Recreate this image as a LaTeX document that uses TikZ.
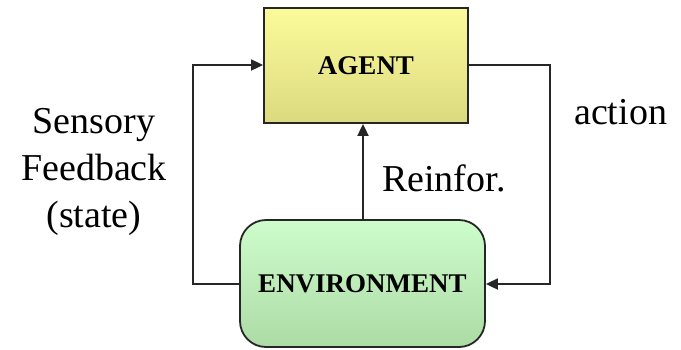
\documentclass[tikz,border=0pt]{standalone}
\usepackage{fontspec}
\setmainfont{Liberation Serif}
\usetikzlibrary{arrows.meta}
\definecolor{agtop}{HTML}{FCFB9A}
\definecolor{agbot}{HTML}{DCDA80}
\definecolor{envtop}{HTML}{CDFDCB}
\definecolor{envbot}{HTML}{ADDBA6}
\begin{document}
\begin{tikzpicture}[x=1pt,y=-1pt,
  box/.style={draw=black!85, line width=1.8pt, inner sep=0pt, font=\fontsize{27}{30}\selectfont\bfseries},
  lbl/.style={font=\fontsize{38}{47}\selectfont, inner sep=0pt, align=center},
  conn/.style={draw=black!85, line width=1.8pt, -{Triangle[length=12pt,width=11pt]}}]
\useasboundingbox (0,0) rectangle (681,349);
\node[box, minimum width=204pt, minimum height=115pt, top color=agtop, bottom color=agbot] (agent) at (366,65.5) {AGENT};
\node[box, rounded corners=26pt, minimum width=245pt, minimum height=127pt, top color=envtop, bottom color=envbot] (env) at (362.5,283.5) {ENVIRONMENT};
\coordinate (lt) at (193,65);
\coordinate (lb) at (193,284);
\coordinate (rt) at (550,65);
\coordinate (rb) at (550,284);
\draw[conn] (env.west |- lb) -- (lb) -- (lt) -- (agent.west |- lt);
\draw[conn] (agent.east |- rt) -- (rt) -- (rb) -- (env.east |- rb);
\draw[conn] (env.north -| 363,0) -- (agent.south -| 363,0);
\node[lbl] (sf) at (94,172) {Sensory\\Feedback\\(state)};
\node[lbl, anchor=west] (act) at (574,112) {action};
\node[lbl, anchor=west] (rein) at (382,178) {Reinfor.};
\end{tikzpicture}
\end{document}
